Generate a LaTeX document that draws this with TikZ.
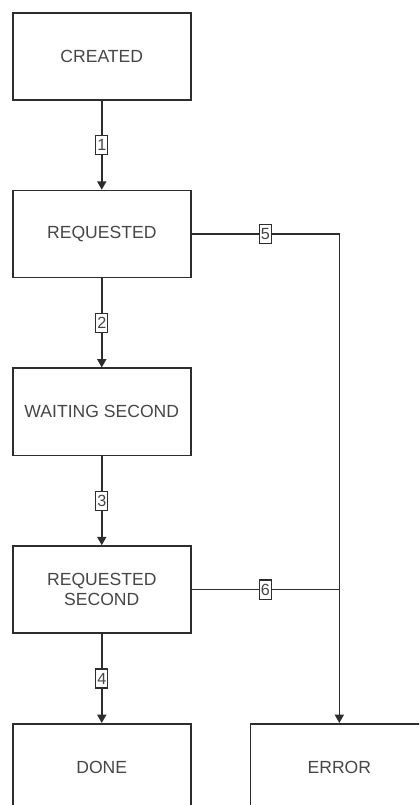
\documentclass[tikz,border=0pt]{standalone}
\usepackage{fontspec}
\setmainfont{Liberation Sans}
\usetikzlibrary{arrows.meta,positioning}
\definecolor{lineGray}{RGB}{45,45,45}
\definecolor{textGray}{RGB}{70,70,70}
\tikzset{
  state/.style={draw=lineGray,line width=1.1pt,
    minimum width=4.45cm,minimum height=2.18cm,
    font=\fontsize{12.5}{14.5}\selectfont,text=textGray,align=center},
  arr/.style={-{Triangle[length=6pt,width=6.5pt]},line width=1.1pt,color=lineGray},
  conn/.style={line width=1.1pt,color=lineGray},
  num/.style={draw=lineGray,fill=white,line width=0.8pt,
    font=\fontsize{11.5}{12}\selectfont,text=textGray,
    inner xsep=1pt,inner ysep=2.8pt},
}

\begin{document}
\begin{tikzpicture}[node distance=2.225cm and 1.45cm]
  \useasboundingbox (0,0) rectangle (10.475,-20.125);
  \clip (0,0) rectangle (10.475,-20.125);
  % main chain
  \node[state,anchor=north west](created) at (0.3,-0.3){CREATED};
  \node[state,below=of created](requested){REQUESTED};
  \node[state,below=of requested](waiting){WAITING SECOND};
  \node[state,below=of waiting](reqsecond){REQUESTED\\SECOND};
  \node[state,below=of reqsecond](done){DONE};
  % error state
  \node[state,right=of done](error){ERROR};
  \coordinate (errtop) at (error.north |- requested.east);

  % transitions
  \draw[arr](created)--node[num]{1}(requested);
  \draw[arr](requested)--node[num]{2}(waiting);
  \draw[arr](waiting)--node[num]{3}(reqsecond);
  \draw[arr](reqsecond)--node[num]{4}(done);
  \draw[arr](requested.east)--node[num]{5}(errtop)--(error.north);
  \draw[conn](reqsecond.east)--node[num]{6}(reqsecond.east -| errtop);
\end{tikzpicture}
\end{document}
